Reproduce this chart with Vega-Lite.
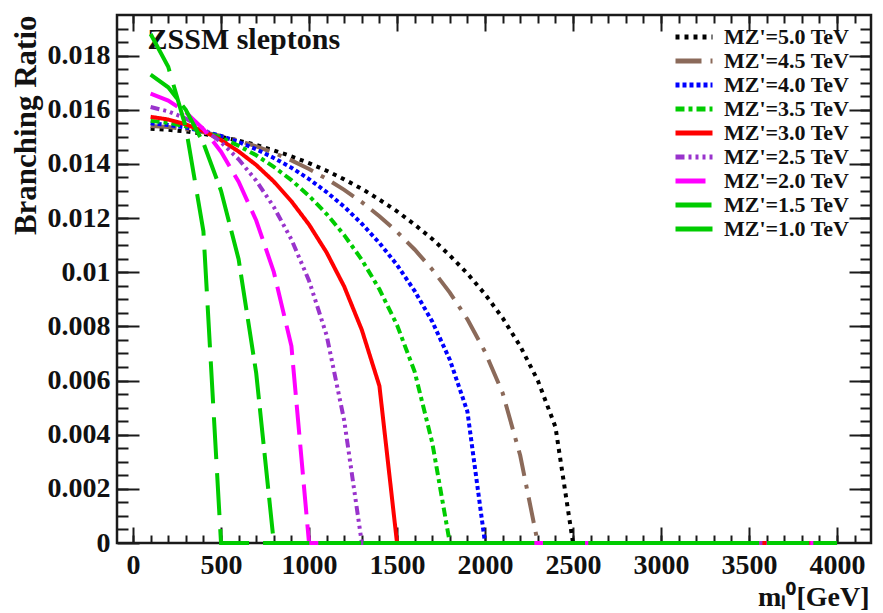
{
  "$schema": "https://vega.github.io/schema/vega-lite/v6.json",
  "width": 754,
  "height": 528,
  "autosize": {"type": "none"},
  "padding": {"left": 117, "top": 15, "right": 12, "bottom": 70},
  "background": "white",
  "config": {
    "view": {"stroke": "#1a1a1a", "strokeWidth": 2.5},
    "font": "Liberation Serif",
    "axis": {"domain": false, "grid": false, "tickColor": "#1a1a1a", "tickWidth": 2, "labelFont": "Liberation Serif", "labelFontWeight": "bold", "labelFontSize": 28, "labelColor": "#111111", "titleFont": "Liberation Serif", "titleFontWeight": "bold", "titleColor": "#111111", "labelOverlap": false, "labelFlush": false},
    "legend": {"orient": "none", "legendX": 556, "legendY": 10, "title": null, "symbolType": "stroke", "symbolSize": 1369, "symbolStrokeWidth": 5, "labelFont": "Liberation Serif", "labelFontWeight": "bold", "labelFontSize": 22, "labelColor": "#111111", "labelOffset": 9, "clipHeight": 23.75, "rowPadding": 0, "padding": 0, "labelLimit": 300}
  },
  "data": {"values": [
    {"s": "MZ'=5.0 TeV", "m": 100, "br": 0.01530}, {"s": "MZ'=5.0 TeV", "m": 200, "br": 0.01526}, {"s": "MZ'=5.0 TeV", "m": 300, "br": 0.01520}, {"s": "MZ'=5.0 TeV", "m": 400, "br": 0.01511}, {"s": "MZ'=5.0 TeV", "m": 500, "br": 0.01500}, {"s": "MZ'=5.0 TeV", "m": 600, "br": 0.01486}, {"s": "MZ'=5.0 TeV", "m": 700, "br": 0.01470}, {"s": "MZ'=5.0 TeV", "m": 800, "br": 0.01450}, {"s": "MZ'=5.0 TeV", "m": 900, "br": 0.01428}, {"s": "MZ'=5.0 TeV", "m": 1000, "br": 0.01403}, {"s": "MZ'=5.0 TeV", "m": 1100, "br": 0.01375}, {"s": "MZ'=5.0 TeV", "m": 1200, "br": 0.01343}, {"s": "MZ'=5.0 TeV", "m": 1300, "br": 0.01308}, {"s": "MZ'=5.0 TeV", "m": 1400, "br": 0.01268}, {"s": "MZ'=5.0 TeV", "m": 1500, "br": 0.01225}, {"s": "MZ'=5.0 TeV", "m": 1600, "br": 0.01176}, {"s": "MZ'=5.0 TeV", "m": 1700, "br": 0.01123}, {"s": "MZ'=5.0 TeV", "m": 1800, "br": 0.01062}, {"s": "MZ'=5.0 TeV", "m": 1900, "br": 0.00995}, {"s": "MZ'=5.0 TeV", "m": 2000, "br": 0.00919}, {"s": "MZ'=5.0 TeV", "m": 2100, "br": 0.00831}, {"s": "MZ'=5.0 TeV", "m": 2200, "br": 0.00727}, {"s": "MZ'=5.0 TeV", "m": 2300, "br": 0.00600}, {"s": "MZ'=5.0 TeV", "m": 2400, "br": 0.00429}, {"s": "MZ'=5.0 TeV", "m": 2500, "br": 0}, {"s": "MZ'=5.0 TeV", "m": 4000, "br": 0},
    {"s": "MZ'=4.5 TeV", "m": 100, "br": 0.01540}, {"s": "MZ'=4.5 TeV", "m": 200, "br": 0.01536}, {"s": "MZ'=4.5 TeV", "m": 300, "br": 0.01528}, {"s": "MZ'=4.5 TeV", "m": 400, "br": 0.01517}, {"s": "MZ'=4.5 TeV", "m": 500, "br": 0.01503}, {"s": "MZ'=4.5 TeV", "m": 600, "br": 0.01486}, {"s": "MZ'=4.5 TeV", "m": 700, "br": 0.01465}, {"s": "MZ'=4.5 TeV", "m": 800, "br": 0.01441}, {"s": "MZ'=4.5 TeV", "m": 900, "br": 0.01413}, {"s": "MZ'=4.5 TeV", "m": 1000, "br": 0.01381}, {"s": "MZ'=4.5 TeV", "m": 1100, "br": 0.01345}, {"s": "MZ'=4.5 TeV", "m": 1200, "br": 0.01304}, {"s": "MZ'=4.5 TeV", "m": 1300, "br": 0.01259}, {"s": "MZ'=4.5 TeV", "m": 1400, "br": 0.01207}, {"s": "MZ'=4.5 TeV", "m": 1500, "br": 0.01149}, {"s": "MZ'=4.5 TeV", "m": 1600, "br": 0.01084}, {"s": "MZ'=4.5 TeV", "m": 1700, "br": 0.01010}, {"s": "MZ'=4.5 TeV", "m": 1800, "br": 0.00925}, {"s": "MZ'=4.5 TeV", "m": 1900, "br": 0.00826}, {"s": "MZ'=4.5 TeV", "m": 2000, "br": 0.00706}, {"s": "MZ'=4.5 TeV", "m": 2100, "br": 0.00554}, {"s": "MZ'=4.5 TeV", "m": 2200, "br": 0.00323}, {"s": "MZ'=4.5 TeV", "m": 2300, "br": 0}, {"s": "MZ'=4.5 TeV", "m": 4000, "br": 0},
    {"s": "MZ'=4.0 TeV", "m": 100, "br": 0.01550}, {"s": "MZ'=4.0 TeV", "m": 200, "br": 0.01544}, {"s": "MZ'=4.0 TeV", "m": 300, "br": 0.01534}, {"s": "MZ'=4.0 TeV", "m": 400, "br": 0.01521}, {"s": "MZ'=4.0 TeV", "m": 500, "br": 0.01503}, {"s": "MZ'=4.0 TeV", "m": 600, "br": 0.01481}, {"s": "MZ'=4.0 TeV", "m": 700, "br": 0.01454}, {"s": "MZ'=4.0 TeV", "m": 800, "br": 0.01422}, {"s": "MZ'=4.0 TeV", "m": 900, "br": 0.01386}, {"s": "MZ'=4.0 TeV", "m": 1000, "br": 0.01344}, {"s": "MZ'=4.0 TeV", "m": 1100, "br": 0.01296}, {"s": "MZ'=4.0 TeV", "m": 1200, "br": 0.01242}, {"s": "MZ'=4.0 TeV", "m": 1300, "br": 0.01179}, {"s": "MZ'=4.0 TeV", "m": 1400, "br": 0.01108}, {"s": "MZ'=4.0 TeV", "m": 1500, "br": 0.01027}, {"s": "MZ'=4.0 TeV", "m": 1600, "br": 0.00931}, {"s": "MZ'=4.0 TeV", "m": 1700, "br": 0.00818}, {"s": "MZ'=4.0 TeV", "m": 1800, "br": 0.00677}, {"s": "MZ'=4.0 TeV", "m": 1900, "br": 0.00485}, {"s": "MZ'=4.0 TeV", "m": 2000, "br": 0}, {"s": "MZ'=4.0 TeV", "m": 4000, "br": 0},
    {"s": "MZ'=3.5 TeV", "m": 100, "br": 0.01559}, {"s": "MZ'=3.5 TeV", "m": 200, "br": 0.01552}, {"s": "MZ'=3.5 TeV", "m": 300, "br": 0.01539}, {"s": "MZ'=3.5 TeV", "m": 400, "br": 0.01521}, {"s": "MZ'=3.5 TeV", "m": 500, "br": 0.01497}, {"s": "MZ'=3.5 TeV", "m": 600, "br": 0.01467}, {"s": "MZ'=3.5 TeV", "m": 700, "br": 0.01432}, {"s": "MZ'=3.5 TeV", "m": 800, "br": 0.01389}, {"s": "MZ'=3.5 TeV", "m": 900, "br": 0.01340}, {"s": "MZ'=3.5 TeV", "m": 1000, "br": 0.01282}, {"s": "MZ'=3.5 TeV", "m": 1100, "br": 0.01215}, {"s": "MZ'=3.5 TeV", "m": 1200, "br": 0.01137}, {"s": "MZ'=3.5 TeV", "m": 1300, "br": 0.01046}, {"s": "MZ'=3.5 TeV", "m": 1400, "br": 0.00937}, {"s": "MZ'=3.5 TeV", "m": 1500, "br": 0.00805}, {"s": "MZ'=3.5 TeV", "m": 1600, "br": 0.00633}, {"s": "MZ'=3.5 TeV", "m": 1700, "br": 0.00371}, {"s": "MZ'=3.5 TeV", "m": 1800, "br": 0}, {"s": "MZ'=3.5 TeV", "m": 4000, "br": 0},
    {"s": "MZ'=3.0 TeV", "m": 100, "br": 0.01574}, {"s": "MZ'=3.0 TeV", "m": 200, "br": 0.01564}, {"s": "MZ'=3.0 TeV", "m": 300, "br": 0.01546}, {"s": "MZ'=3.0 TeV", "m": 400, "br": 0.01521}, {"s": "MZ'=3.0 TeV", "m": 500, "br": 0.01488}, {"s": "MZ'=3.0 TeV", "m": 600, "br": 0.01446}, {"s": "MZ'=3.0 TeV", "m": 700, "br": 0.01396}, {"s": "MZ'=3.0 TeV", "m": 800, "br": 0.01335}, {"s": "MZ'=3.0 TeV", "m": 900, "br": 0.01262}, {"s": "MZ'=3.0 TeV", "m": 1000, "br": 0.01176}, {"s": "MZ'=3.0 TeV", "m": 1100, "br": 0.01073}, {"s": "MZ'=3.0 TeV", "m": 1200, "br": 0.00947}, {"s": "MZ'=3.0 TeV", "m": 1300, "br": 0.00787}, {"s": "MZ'=3.0 TeV", "m": 1400, "br": 0.00580}, {"s": "MZ'=3.0 TeV", "m": 1500, "br": 0}, {"s": "MZ'=3.0 TeV", "m": 4000, "br": 0},
    {"s": "MZ'=2.5 TeV", "m": 100, "br": 0.01610}, {"s": "MZ'=2.5 TeV", "m": 200, "br": 0.01594}, {"s": "MZ'=2.5 TeV", "m": 300, "br": 0.01568}, {"s": "MZ'=2.5 TeV", "m": 400, "br": 0.01530}, {"s": "MZ'=2.5 TeV", "m": 500, "br": 0.01480}, {"s": "MZ'=2.5 TeV", "m": 600, "br": 0.01417}, {"s": "MZ'=2.5 TeV", "m": 700, "br": 0.01338}, {"s": "MZ'=2.5 TeV", "m": 800, "br": 0.01241}, {"s": "MZ'=2.5 TeV", "m": 900, "br": 0.01121}, {"s": "MZ'=2.5 TeV", "m": 1000, "br": 0.00969}, {"s": "MZ'=2.5 TeV", "m": 1100, "br": 0.00767}, {"s": "MZ'=2.5 TeV", "m": 1200, "br": 0.00452}, {"s": "MZ'=2.5 TeV", "m": 1300, "br": 0}, {"s": "MZ'=2.5 TeV", "m": 4000, "br": 0},
    {"s": "MZ'=2.0 TeV", "m": 100, "br": 0.01660}, {"s": "MZ'=2.0 TeV", "m": 200, "br": 0.01634}, {"s": "MZ'=2.0 TeV", "m": 300, "br": 0.01591}, {"s": "MZ'=2.0 TeV", "m": 400, "br": 0.01529}, {"s": "MZ'=2.0 TeV", "m": 500, "br": 0.01445}, {"s": "MZ'=2.0 TeV", "m": 600, "br": 0.01334}, {"s": "MZ'=2.0 TeV", "m": 700, "br": 0.01191}, {"s": "MZ'=2.0 TeV", "m": 800, "br": 0.01001}, {"s": "MZ'=2.0 TeV", "m": 900, "br": 0.00727}, {"s": "MZ'=2.0 TeV", "m": 1000, "br": 0}, {"s": "MZ'=2.0 TeV", "m": 4000, "br": 0},
    {"s": "MZ'=1.5 TeV", "m": 100, "br": 0.01730}, {"s": "MZ'=1.5 TeV", "m": 200, "br": 0.01683}, {"s": "MZ'=1.5 TeV", "m": 300, "br": 0.01600}, {"s": "MZ'=1.5 TeV", "m": 400, "br": 0.01477}, {"s": "MZ'=1.5 TeV", "m": 500, "br": 0.01301}, {"s": "MZ'=1.5 TeV", "m": 600, "br": 0.01048}, {"s": "MZ'=1.5 TeV", "m": 700, "br": 0.00627}, {"s": "MZ'=1.5 TeV", "m": 800, "br": 0}, {"s": "MZ'=1.5 TeV", "m": 4000, "br": 0},
    {"s": "MZ'=1.0 TeV", "m": 100, "br": 0.01880}, {"s": "MZ'=1.0 TeV", "m": 200, "br": 0.01759}, {"s": "MZ'=1.0 TeV", "m": 300, "br": 0.01535}, {"s": "MZ'=1.0 TeV", "m": 400, "br": 0.01151}, {"s": "MZ'=1.0 TeV", "m": 500, "br": 0}, {"s": "MZ'=1.0 TeV", "m": 4000, "br": 0}
  ]},
  "layer": [
    {
      "mark": {"type": "line", "strokeWidth": 4},
      "encoding": {
        "x": {"field": "m", "type": "quantitative", "scale": {"domain": [-91, 4193], "nice": false, "zero": false},
              "axis": {"orient": "bottom", "values": [0, 500, 1000, 1500, 2000, 2500, 3000, 3500, 4000], "tickSize": -16, "labelPadding": 24, "format": "d",
                       "title": "mₗ⁰[GeV]", "titleFontSize": 28, "titleAnchor": "end", "titleAlign": "right", "titleBaseline": "alphabetic", "titleX": 752, "titleY": 62}},
        "y": {"field": "br", "type": "quantitative", "scale": {"domain": [0, 0.0195], "nice": false},
              "axis": {"orient": "left", "values": [0, 0.002, 0.004, 0.006, 0.008, 0.01, 0.012, 0.014, 0.016, 0.018], "tickSize": -22, "labelPadding": 29,
                       "labelExpr": "format(datum.value, '.3~f')",
                       "title": "Branching Ratio", "titleFontSize": 31, "titleAngle": 270, "titleAlign": "right", "titleBaseline": "middle", "titleX": -91, "titleY": 0}},
        "color": {"field": "s", "type": "nominal",
                  "scale": {"domain": ["MZ'=5.0 TeV", "MZ'=4.5 TeV", "MZ'=4.0 TeV", "MZ'=3.5 TeV", "MZ'=3.0 TeV", "MZ'=2.5 TeV", "MZ'=2.0 TeV", "MZ'=1.5 TeV", "MZ'=1.0 TeV"],
                            "range": ["#000000", "#8b6a5a", "#0000ff", "#00cc00", "#ff0000", "#9933cc", "#ff00ff", "#00cc00", "#00cc00"]}},
        "strokeDash": {"field": "s", "type": "nominal",
                  "scale": {"domain": ["MZ'=5.0 TeV", "MZ'=4.5 TeV", "MZ'=4.0 TeV", "MZ'=3.5 TeV", "MZ'=3.0 TeV", "MZ'=2.5 TeV", "MZ'=2.0 TeV", "MZ'=1.5 TeV", "MZ'=1.0 TeV"],
                            "range": [[4, 5], [26, 9, 4, 9], [4, 3], [9, 4, 4, 4], [1, 0], [9, 4, 3, 4, 3, 4, 3, 4], [30, 10], [36, 9], [42, 14]]}}
      }
    },
    {
      "mark": {"type": "point", "opacity": 0},
      "encoding": {
        "x": {"field": "m", "type": "quantitative", "scale": {"domain": [-91, 4193], "nice": false, "zero": false},
              "axis": {"orient": "bottom", "values": [0, 100, 200, 300, 400, 500, 600, 700, 800, 900, 1000, 1100, 1200, 1300, 1400, 1500, 1600, 1700, 1800, 1900, 2000, 2100, 2200, 2300, 2400, 2500, 2600, 2700, 2800, 2900, 3000, 3100, 3200, 3300, 3400, 3500, 3600, 3700, 3800, 3900, 4000, 4100], "tickSize": -8, "labels": false, "title": null}},
        "y": {"field": "br", "type": "quantitative", "scale": {"domain": [0, 0.0195], "nice": false},
              "axis": {"orient": "left", "values": [0.0005, 0.001, 0.0015, 0.002, 0.0025, 0.003, 0.0035, 0.004, 0.0045, 0.005, 0.0055, 0.006, 0.0065, 0.007, 0.0075, 0.008, 0.0085, 0.009, 0.0095, 0.01, 0.0105, 0.011, 0.0115, 0.012, 0.0125, 0.013, 0.0135, 0.014, 0.0145, 0.015, 0.0155, 0.016, 0.0165, 0.017, 0.0175, 0.018, 0.0185, 0.019], "tickSize": -11, "labels": false, "title": null}}
      }
    },
    {
      "mark": {"type": "point", "opacity": 0},
      "encoding": {
        "x": {"field": "m", "type": "quantitative", "scale": {"domain": [-91, 4193], "nice": false, "zero": false},
              "axis": {"orient": "top", "values": [0, 500, 1000, 1500, 2000, 2500, 3000, 3500, 4000], "tickSize": -16, "labels": false,
                       "title": "ZSSM sleptons", "titleFontSize": 30, "titleAnchor": "start", "titleAlign": "left", "titleBaseline": "alphabetic", "titleX": 30, "titleY": 33}},
        "y": {"field": "br", "type": "quantitative", "scale": {"domain": [0, 0.0195], "nice": false},
              "axis": {"orient": "right", "values": [0.002, 0.004, 0.006, 0.008, 0.01, 0.012, 0.014, 0.016, 0.018], "tickSize": -22, "labels": false, "title": null}}
      }
    },
    {
      "mark": {"type": "point", "opacity": 0},
      "encoding": {
        "x": {"field": "m", "type": "quantitative", "scale": {"domain": [-91, 4193], "nice": false, "zero": false},
              "axis": {"orient": "top", "values": [0, 100, 200, 300, 400, 500, 600, 700, 800, 900, 1000, 1100, 1200, 1300, 1400, 1500, 1600, 1700, 1800, 1900, 2000, 2100, 2200, 2300, 2400, 2500, 2600, 2700, 2800, 2900, 3000, 3100, 3200, 3300, 3400, 3500, 3600, 3700, 3800, 3900, 4000, 4100], "tickSize": -8, "labels": false, "title": null}},
        "y": {"field": "br", "type": "quantitative", "scale": {"domain": [0, 0.0195], "nice": false},
              "axis": {"orient": "right", "values": [0.0005, 0.001, 0.0015, 0.002, 0.0025, 0.003, 0.0035, 0.004, 0.0045, 0.005, 0.0055, 0.006, 0.0065, 0.007, 0.0075, 0.008, 0.0085, 0.009, 0.0095, 0.01, 0.0105, 0.011, 0.0115, 0.012, 0.0125, 0.013, 0.0135, 0.014, 0.0145, 0.015, 0.0155, 0.016, 0.0165, 0.017, 0.0175, 0.018, 0.0185, 0.019], "tickSize": -11, "labels": false, "title": null}}
      }
    }
  ],
  "resolve": {"axis": {"x": "independent", "y": "independent"}}
}
